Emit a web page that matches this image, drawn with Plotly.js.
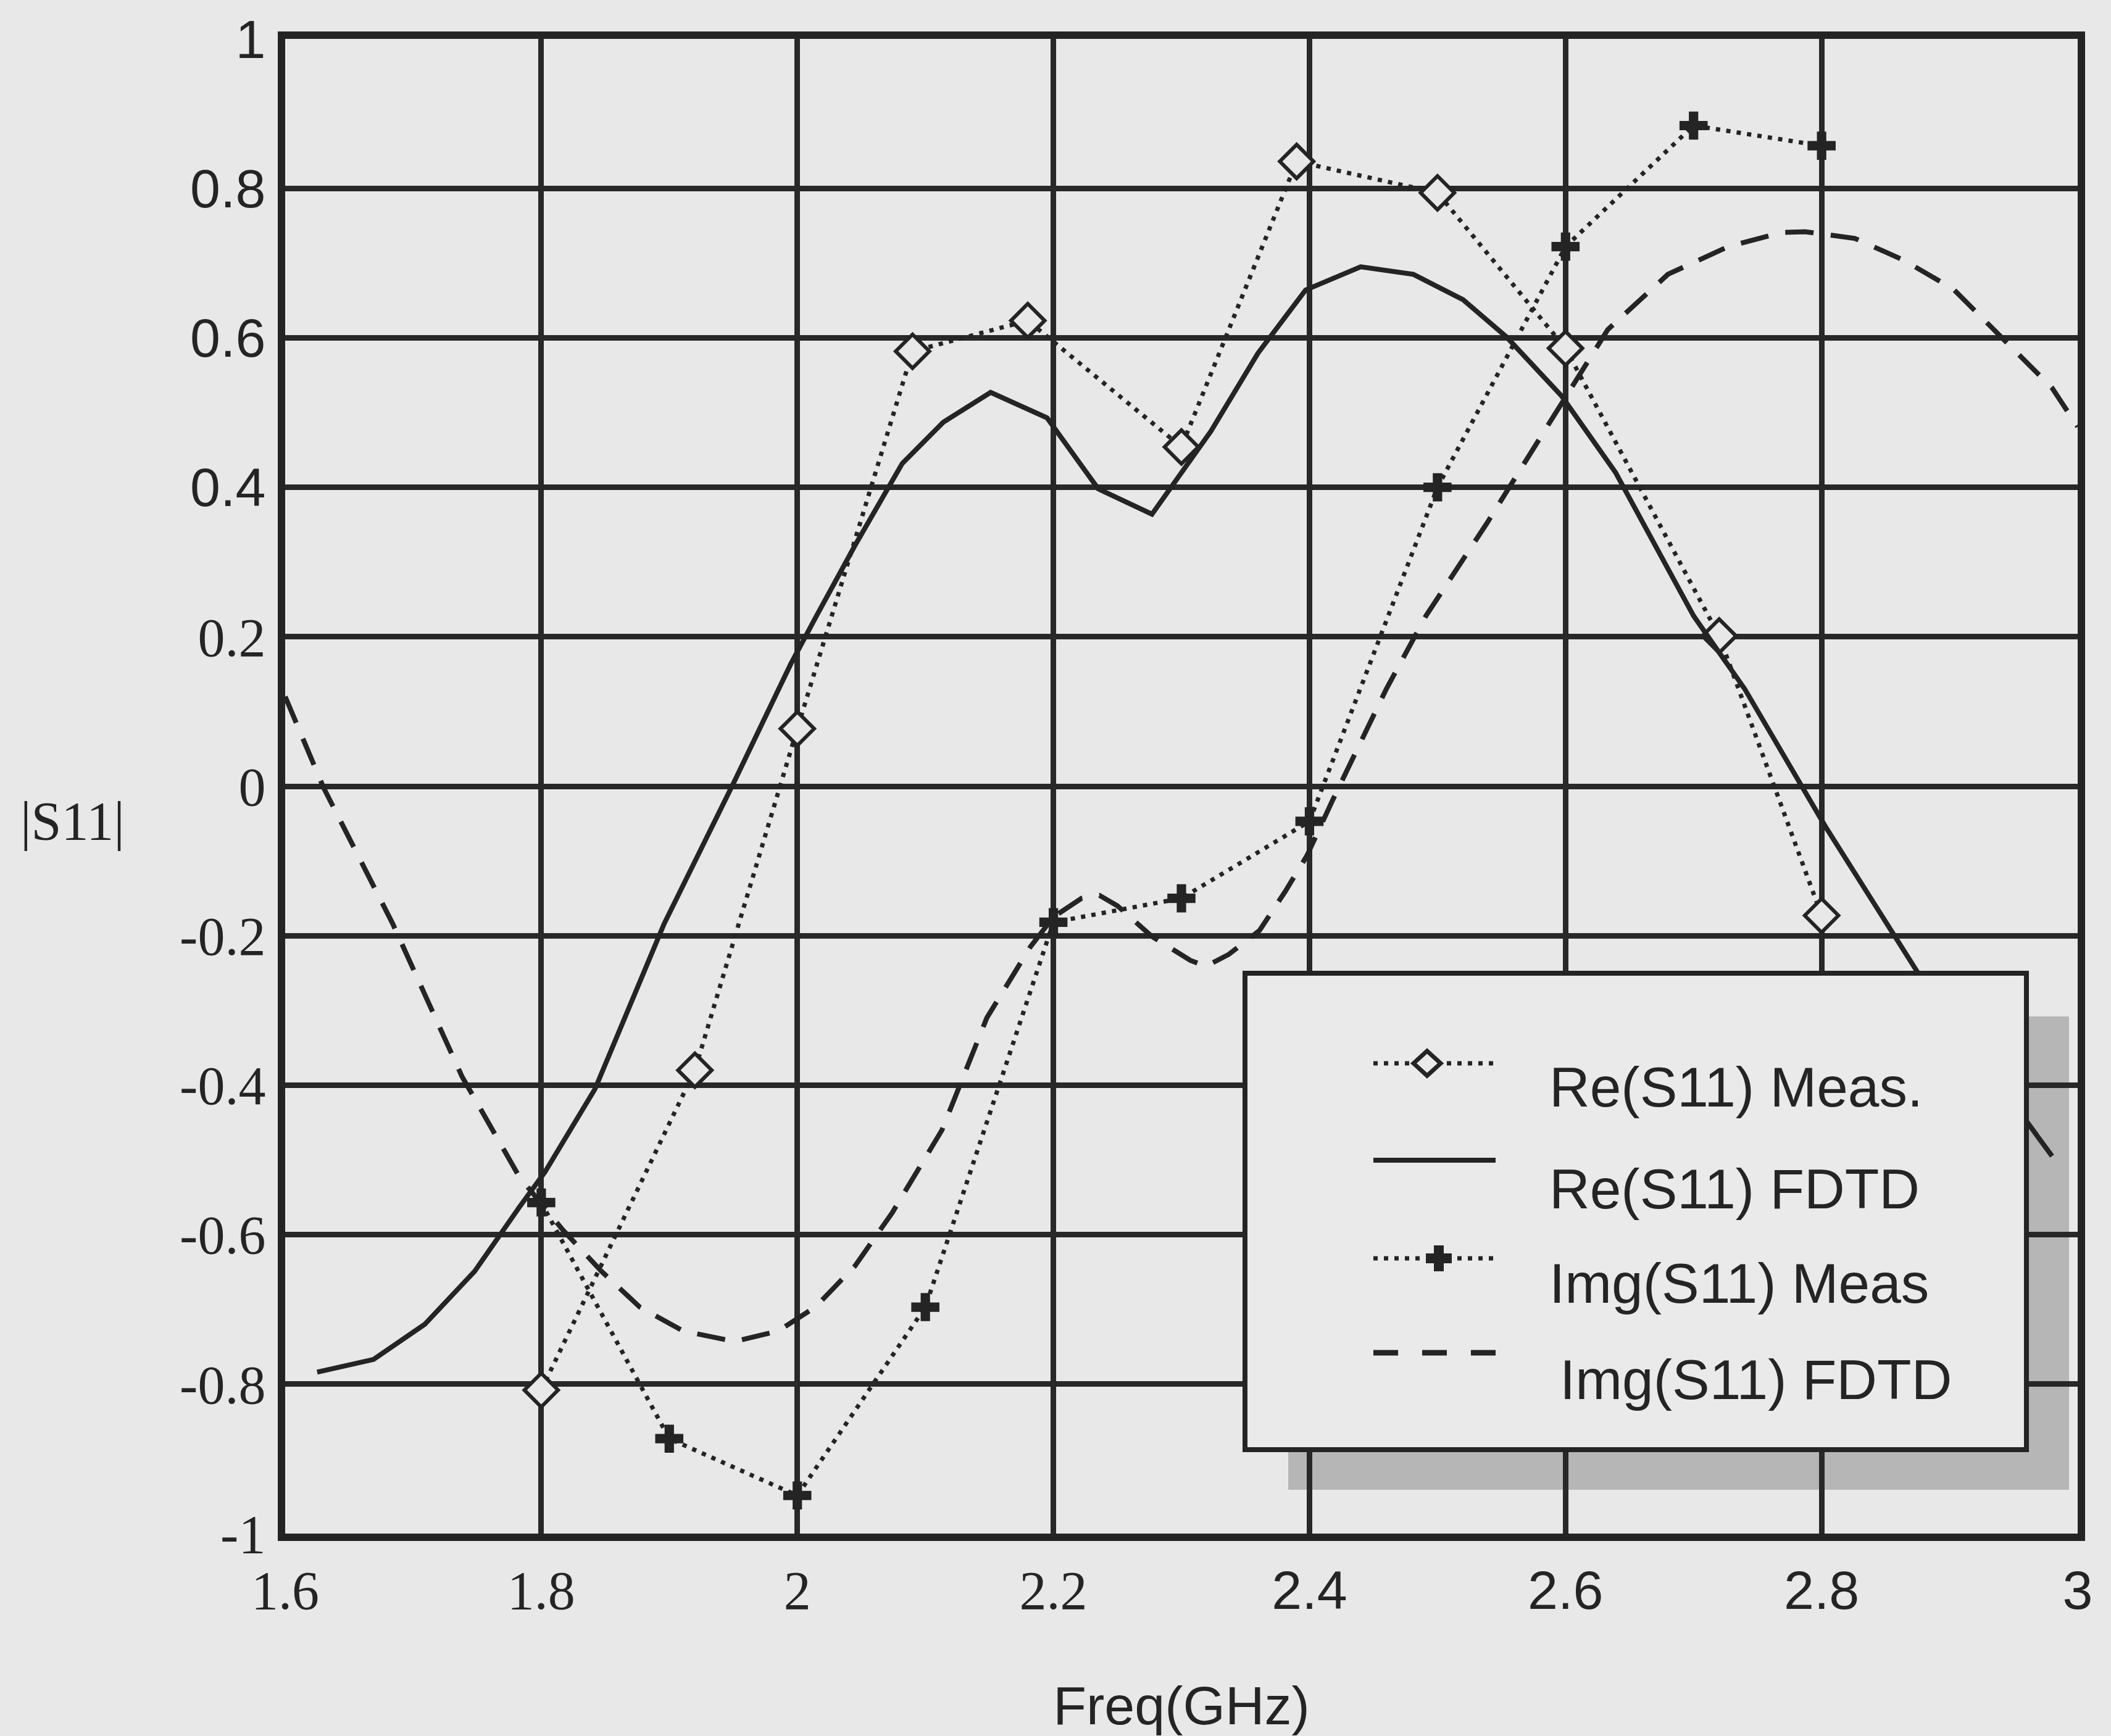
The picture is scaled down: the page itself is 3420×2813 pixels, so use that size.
<!DOCTYPE html>
<html>
<head>
<meta charset="utf-8">
<script src="https://cdn.plot.ly/plotly-3.0.1.min.js"></script>
<style>
  html, body { margin: 0; padding: 0; background: #e8e8e8; }
  #chart { width: 3420px; height: 2813px; }
</style>
</head>
<body>
<div id="chart"></div>
<script>
// ---- data -------------------------------------------------------------
// Measured real part of S11
const freqReMeas = [1.8, 1.92, 2.0, 2.09, 2.18, 2.3, 2.39, 2.5, 2.6, 2.72, 2.8];
const reMeas     = [-0.808, -0.380, 0.077, 0.582, 0.623, 0.454, 0.836, 0.794, 0.586, 0.201, -0.173];

// Measured imaginary part of S11
const freqImMeas = [1.8, 1.9, 2.0, 2.1, 2.2, 2.3, 2.4, 2.5, 2.6, 2.7, 2.8];
const imMeas     = [-0.557, -0.873, -0.949, -0.697, -0.182, -0.15, -0.047, 0.400, 0.722, 0.884, 0.857];

// FDTD real part of S11
const freqReFdtd = [1.625, 1.669, 1.709, 1.748, 1.783, 1.803, 1.842, 1.896, 1.951, 1.995, 2.015,
                    2.045, 2.082, 2.114, 2.151, 2.195, 2.235, 2.277, 2.323, 2.36, 2.397, 2.44,
                    2.481, 2.52, 2.554, 2.597, 2.639, 2.70, 2.74, 2.803, 2.875, 2.98];
const reFdtd     = [-0.784, -0.767, -0.72, -0.649, -0.563, -0.516, -0.405, -0.184, 0.007, 0.164, 0.228,
                    0.322, 0.432, 0.487, 0.527, 0.493, 0.398, 0.364, 0.475, 0.58, 0.664, 0.695,
                    0.685, 0.651, 0.601, 0.522, 0.42, 0.228, 0.13, -0.054, -0.249, -0.495];

// FDTD imaginary part of S11
const freqImFdtd = [1.6, 1.63, 1.684, 1.738, 1.783, 1.817, 1.847, 1.877, 1.911, 1.951, 1.985,
                    2.014, 2.045, 2.074, 2.113, 2.148, 2.182, 2.2, 2.222, 2.236, 2.25, 2.277,
                    2.307, 2.319, 2.337, 2.361, 2.381, 2.398, 2.418, 2.432, 2.46, 2.491, 2.539,
                    2.587, 2.633, 2.68, 2.727, 2.769, 2.787, 2.826, 2.864, 2.903, 2.941, 2.98, 3.0];
const imFdtd     = [0.12, -0.002, -0.184, -0.388, -0.523, -0.594, -0.649, -0.697, -0.729, -0.743, -0.729,
                    -0.697, -0.642, -0.571, -0.46, -0.31, -0.215, -0.175, -0.15, -0.146, -0.16, -0.201,
                    -0.233, -0.241, -0.225, -0.193, -0.141, -0.093, -0.019, 0.031, 0.13, 0.228, 0.353,
                    0.485, 0.611, 0.685, 0.722, 0.741, 0.742, 0.733, 0.704, 0.665, 0.6, 0.533, 0.481];

// Axis ticks and legend entries
const xTickVals   = [1.6, 1.8, 2.0, 2.2, 2.4, 2.6, 2.8, 3.0];
const xTickLabels = ['1.6', '1.8', '2', '2.2', '2.4', '2.6', '2.8', '3'];
const yTickVals   = [-1, -0.8, -0.6, -0.4, -0.2, 0, 0.2, 0.4, 0.6, 0.8, 1];
const yTickLabels = ['-1', '-0.8', '-0.6', '-0.4', '-0.2', '0', '0.2', '0.4', '0.6', '0.8', '1'];
const seriesNames = ['Re(S11) Meas.', 'Re(S11) FDTD', 'Img(S11) Meas', 'Img(S11) FDTD'];
const xTitle = 'Freq(GHz)';
const yTitle = '|S11|';

// ---- styling ----------------------------------------------------------
const INK = '#242424';
const BG = '#e8e8e8';
const SANS = 'Liberation Sans, Arial, sans-serif';
const SERIF = 'Liberation Serif, Times New Roman, serif';

const W = 3420, H = 2813;
const M = { l: 462, r: 54, t: 63, b: 328 };
const PW = W - M.l - M.r, PH = H - M.t - M.b;
// pixel position on the page -> paper fraction
const px = x => (x - M.l) / PW;
const py = y => (H - M.b - y) / PH;

// tick labels: part of each axis is set in a serif face
const serifSpan = s => '<span style="font-family:' + SERIF + ';font-size:88px">' + s + '</span>';
const xTickText = xTickLabels.map((s, i) => xTickVals[i] <= 2.2 ? serifSpan(s) : s);
const yTickText = yTickLabels.map((s, i) => yTickVals[i] <= 0.2 ? serifSpan(s) : s);

const dotted = '7px,10px';
const dashed = '46px,28px';

const traces = [
  {
    x: freqReMeas, y: reMeas, name: seriesNames[0], type: 'scatter', mode: 'lines+markers',
    line: { color: INK, width: 7, dash: dotted },
    marker: { symbol: 'diamond', size: 42, color: BG, line: { color: INK, width: 6 } }
  },
  {
    x: freqReFdtd, y: reFdtd, name: seriesNames[1], type: 'scatter', mode: 'lines',
    line: { color: INK, width: 8 }
  },
  {
    x: freqImMeas, y: imMeas, name: seriesNames[2], type: 'scatter', mode: 'lines+markers',
    line: { color: INK, width: 7, dash: dotted },
    marker: { symbol: 'cross', size: 38, color: INK, line: { width: 0 } }
  },
  {
    x: freqImFdtd, y: imFdtd, name: seriesNames[3], type: 'scatter', mode: 'lines',
    line: { color: INK, width: 8, dash: dashed }
  }
];

// ---- legend box (drawn by hand so the sample lines are long) ----------
const legendShapes = [
  { type: 'rect', xref: 'paper', yref: 'paper', layer: 'below',
    x0: px(2087), x1: px(3352), y0: py(1647), y1: py(2414),
    fillcolor: '#b6b6b6', line: { width: 0 } },
  { type: 'rect', xref: 'paper', yref: 'paper', layer: 'above',
    x0: px(2017), x1: px(3283), y0: py(1577), y1: py(2349),
    fillcolor: '#eaeaea', line: { color: INK, width: 8 } }
];
const sampleX0 = 2225, sampleX1 = 2423;
const sampleY = [1723, 1880, 2039, 2192];
const sampleStyle = [
  { width: 7, dash: dotted },
  { width: 8, dash: 'solid' },
  { width: 7, dash: dotted },
  { width: 9, dash: '40px,39px' }
];
sampleY.forEach((y, i) => {
  legendShapes.push({
    type: 'line', xref: 'paper', yref: 'paper', layer: 'above',
    x0: px(sampleX0), x1: px(sampleX1), y0: py(y), y1: py(y),
    line: Object.assign({ color: INK }, sampleStyle[i])
  });
});
// diamond sample
(function () {
  const cx = 2312, cy = sampleY[0], w = 22, h = 20;
  legendShapes.push({
    type: 'path', xref: 'paper', yref: 'paper', layer: 'above',
    path: `M${px(cx)},${py(cy - h)} L${px(cx + w)},${py(cy)} L${px(cx)},${py(cy + h)} L${px(cx - w)},${py(cy)} Z`,
    fillcolor: '#eaeaea', line: { color: INK, width: 7 }
  });
})();
// plus sample
(function () {
  const cx = 2331, cy = sampleY[2], a = 21, t = 8;
  const pts = [[-t, -a], [t, -a], [t, -t], [a, -t], [a, t], [t, t], [t, a], [-t, a], [-t, t], [-a, t], [-a, -t], [-t, -t]];
  const d = pts.map((p, k) => (k ? 'L' : 'M') + px(cx + p[0]) + ',' + py(cy + p[1])).join(' ') + ' Z';
  legendShapes.push({
    type: 'path', xref: 'paper', yref: 'paper', layer: 'above',
    path: d, fillcolor: INK, line: { width: 0 }
  });
})();

const textX = [2508, 2508, 2508, 2525];
const textY = [1762, 1926, 2079, 2235];
const annotations = seriesNames.map((name, i) => ({
  xref: 'paper', yref: 'paper', x: px(textX[i]), y: py(textY[i]),
  xanchor: 'left', yanchor: 'middle', showarrow: false,
  text: name, font: { family: SANS, size: 91, color: INK }
}));
annotations.push({
  xref: 'paper', yref: 'paper', x: px(117), y: py(1330),
  xanchor: 'center', yanchor: 'middle', showarrow: false,
  text: yTitle, font: { family: SERIF, size: 88, color: INK }
});

const axisCommon = {
  showgrid: true, gridcolor: '#282828', gridwidth: 9,
  showline: true, linecolor: INK, linewidth: 12, mirror: true,
  zeroline: false, ticks: '', tickmode: 'array', fixedrange: true,
  tickfont: { family: SANS, size: 88, color: INK }
};

const layout = {
  width: W, height: H,
  margin: M,
  paper_bgcolor: BG,
  plot_bgcolor: 'rgba(0,0,0,0)',
  showlegend: false,
  font: { family: SANS, color: INK },
  xaxis: Object.assign({}, axisCommon, {
    range: [1.6, 3.0], tickvals: xTickVals, ticktext: xTickText,
    ticklabelstandoff: 4,
    title: { text: xTitle, font: { family: SANS, size: 88, color: INK }, standoff: 120 }
  }),
  yaxis: Object.assign({}, axisCommon, {
    range: [-1, 1], tickvals: yTickVals, ticktext: yTickText,
    ticklabelstandoff: 2
  }),
  shapes: legendShapes,
  annotations: annotations
};

Plotly.newPlot('chart', traces, layout, { staticPlot: true, displayModeBar: false });
</script>
</body>
</html>
